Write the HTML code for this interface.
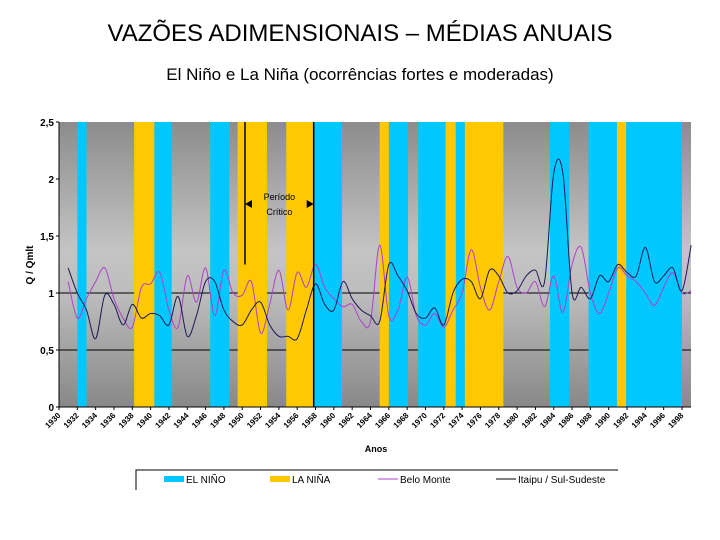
<!DOCTYPE html>
<html><head><meta charset="utf-8"><style>
body{margin:0;background:#fff;width:720px;height:540px;overflow:hidden;font-family:"Liberation Sans",sans-serif;}
.t{position:absolute;left:0;width:720px;text-align:center;color:#000;}
</style></head><body>
<div class="t" style="top:20px;font-size:24px;">VAZÕES ADIMENSIONAIS – MÉDIAS ANUAIS</div>
<div class="t" style="top:65px;font-size:17px;">El Niño e La Niña (ocorrências fortes e moderadas)</div>
<svg id="c" width="720" height="540" style="position:absolute;left:0;top:0" xmlns="http://www.w3.org/2000/svg">
<defs><linearGradient id="bg" x1="0" y1="0" x2="0" y2="1">
<stop offset="0" stop-color="#8c8c8c"/><stop offset="0.45" stop-color="#c4c4c4"/><stop offset="0.6" stop-color="#bdbdbd"/><stop offset="1" stop-color="#888"/></linearGradient></defs>
</svg>
<script>
const years=[];for(let y=1931;y<=1999;y++)years.push(y);
const beloMonte=[1.1,0.78,0.95,1.1,1.22,0.95,0.78,0.7,1.05,1.08,1.18,0.85,0.7,1.15,0.92,1.22,0.8,1.2,1.0,0.98,1.1,0.65,0.9,1.2,0.85,1.18,1.05,1.25,1.05,0.95,0.88,0.9,0.75,
0.75,1.42,0.8,0.85,1.14,0.8,0.72,0.82,0.7,0.85,1.0,1.38,1.05,0.85,1.1,1.32,1.05,1.0,1.1,0.88,1.15,0.83,1.25,1.4,1.0,0.82,1.0,1.22,1.15,1.1,1.0,0.89,1.05,1.18,1.0,1.02];
const itaipu=[1.22,1.0,0.85,0.6,0.98,0.9,0.72,0.9,0.78,0.82,0.8,0.72,0.97,0.62,0.8,1.1,1.1,0.85,0.75,0.72,0.85,0.92,0.72,0.62,0.62,0.6,0.85,1.08,0.9,0.85,1.1,0.95,0.85,
0.8,0.75,1.25,1.15,1.02,0.82,0.78,0.87,0.72,1.0,1.12,1.1,0.95,1.2,1.15,1.0,1.02,1.15,1.2,1.1,2.05,2.05,1.0,1.05,0.95,1.15,1.1,1.25,1.18,1.15,1.4,1.1,1.15,1.22,1.02,1.42];
const elNino=[[1932,1933],[1940.4,1942.3],[1946.5,1948.6],[1957.8,1960.9],[1966,1968.1],[1969.2,1972.2],[1973.3,1974.3],[1983.6,1985.7],[1987.8,1990.9],[1991.9,1998]];
const laNina=[[1938.2,1940.4],[1949.5,1952.7],[1954.8,1957.8],[1965,1966],[1972.2,1973.3],[1974.3,1978.5],[1990.9,1991.9]];
const yTicks=[0,0.5,1,1.5,2,2.5];
const yTickLabels=["0","0,5","1","1,5","2","2,5"];
const xTicks=[];for(let y=1930;y<=1998;y+=2)xTicks.push(y);
const X0=59,X1=691,Y0=407,Y1=122;
const sx=y=>X0+(y-1930)*(623/68);
const sy=v=>Y0-(v/2.5)*(Y0-Y1);
const svg=document.getElementById('c');const NS='http://www.w3.org/2000/svg';
function mk(t,a,p){const e=document.createElementNS(NS,t);for(const k in a)e.setAttribute(k,a[k]);(p||svg).appendChild(e);return e;}
let e=mk('rect',{x:X0,y:Y1,width:X1-X0,height:Y0-Y1,fill:'url(#bg)'});


[0.5,1].forEach(v=>{const l=mk('line',{x1:X0,x2:X1,y1:sy(v),y2:sy(v),stroke:'#000','stroke-width':1});

});
elNino.forEach(b=>{const r=mk('rect',{x:sx(b[0]),y:Y1,width:sx(b[1])-sx(b[0]),height:Y0-Y1,fill:'#00c8ff'});

});
laNina.forEach(b=>{const r=mk('rect',{x:sx(b[0]),y:Y1,width:sx(b[1])-sx(b[0]),height:Y0-Y1,fill:'#ffc800'});

});
function path(vals){const p=years.map((y,i)=>[sx(y),sy(vals[i])]);let d='M'+p[0][0]+','+p[0][1];
for(let i=0;i<p.length-1;i++){const a=p[i-1]||p[i],b=p[i],c=p[i+1],n=p[i+2]||c;
d+=` C${b[0]+(c[0]-a[0])/6},${b[1]+(c[1]-a[1])/6} ${c[0]-(n[0]-b[0])/6},${c[1]-(n[1]-b[1])/6} ${c[0]},${c[1]}`;}return d;}
e=mk('path',{d:path(beloMonte),fill:'none',stroke:'#b040c8','stroke-width':1});


e=mk('path',{d:path(itaipu),fill:'none',stroke:'#1a1a55','stroke-width':1});


e=mk('line',{x1:sx(1950.3),x2:sx(1950.3),y1:Y1,y2:sy(1.25),stroke:'#000','stroke-width':1.5});


e=mk('line',{x1:sx(1957.8),x2:sx(1957.8),y1:Y1,y2:Y0,stroke:'#000','stroke-width':1.5});


const ay=204,ax1=sx(1950.3),ax2=sx(1957.8);
e=mk('polygon',{points:`${ax1},${ay} ${ax1+7},${ay-4} ${ax1+7},${ay+4}`,fill:'#000'});


e=mk('polygon',{points:`${ax2},${ay} ${ax2-7},${ay-4} ${ax2-7},${ay+4}`,fill:'#000'});


[['Período',200],['Crítico',215]].forEach(t=>{const x=mk('text',{x:(ax1+ax2)/2,y:t[1],'text-anchor':'middle','font-size':9,fill:'#000'});x.textContent=t[0];

});
e=mk('line',{x1:X0,x2:X0,y1:Y1,y2:Y0,stroke:'#000'});


e=mk('line',{x1:X0,x2:X1,y1:Y0,y2:Y0,stroke:'#000'});


yTicks.forEach((v,i)=>{const t=mk('text',{x:X0-5,y:sy(v)+4,'text-anchor':'end','font-size':10,'font-weight':'bold'});t.textContent=yTickLabels[i];


mk('line',{x1:X0-3,x2:X0,y1:sy(v),y2:sy(v),stroke:'#000'});});
xTicks.forEach(y=>{const x=sx(y);mk('line',{x1:x,x2:x,y1:Y0,y2:Y0+3,stroke:'#000'});
const t=mk('text',{x:x+2,y:Y0+9,'text-anchor':'end','font-size':8,'font-weight':'bold',transform:`rotate(-45 ${x+2} ${Y0+9})`});t.textContent=y;

});
e=mk('text',{x:376,y:452,'text-anchor':'middle','font-size':9,'font-weight':'bold'});e.textContent='Anos';


e=mk('text',{x:33,y:265,'text-anchor':'middle','font-size':10,'font-weight':'bold',transform:'rotate(-90 33 265)'});e.textContent='Q / Qmlt';


e=mk('path',{d:'M136,490 L136,470 L618,470',fill:'none',stroke:'#000','stroke-width':1});


const leg=[['EL NIÑO',164,'#00c8ff','rect'],['LA NIÑA',270,'#ffc800','rect'],['Belo Monte',378,'#b040c8','line'],['Itaipu / Sul-Sudeste',496,'#000','line']];
leg.forEach(l=>{const g=mk('g',{});


if(l[3]=='rect')mk('rect',{x:l[1],y:476,width:20,height:6,fill:l[2]},g);else mk('line',{x1:l[1],x2:l[1]+20,y1:479,y2:479,stroke:l[2]},g);
const t=mk('text',{x:l[1]+22,y:483,'font-size':10},g);t.textContent=l[0];});
</script>
</body></html>
